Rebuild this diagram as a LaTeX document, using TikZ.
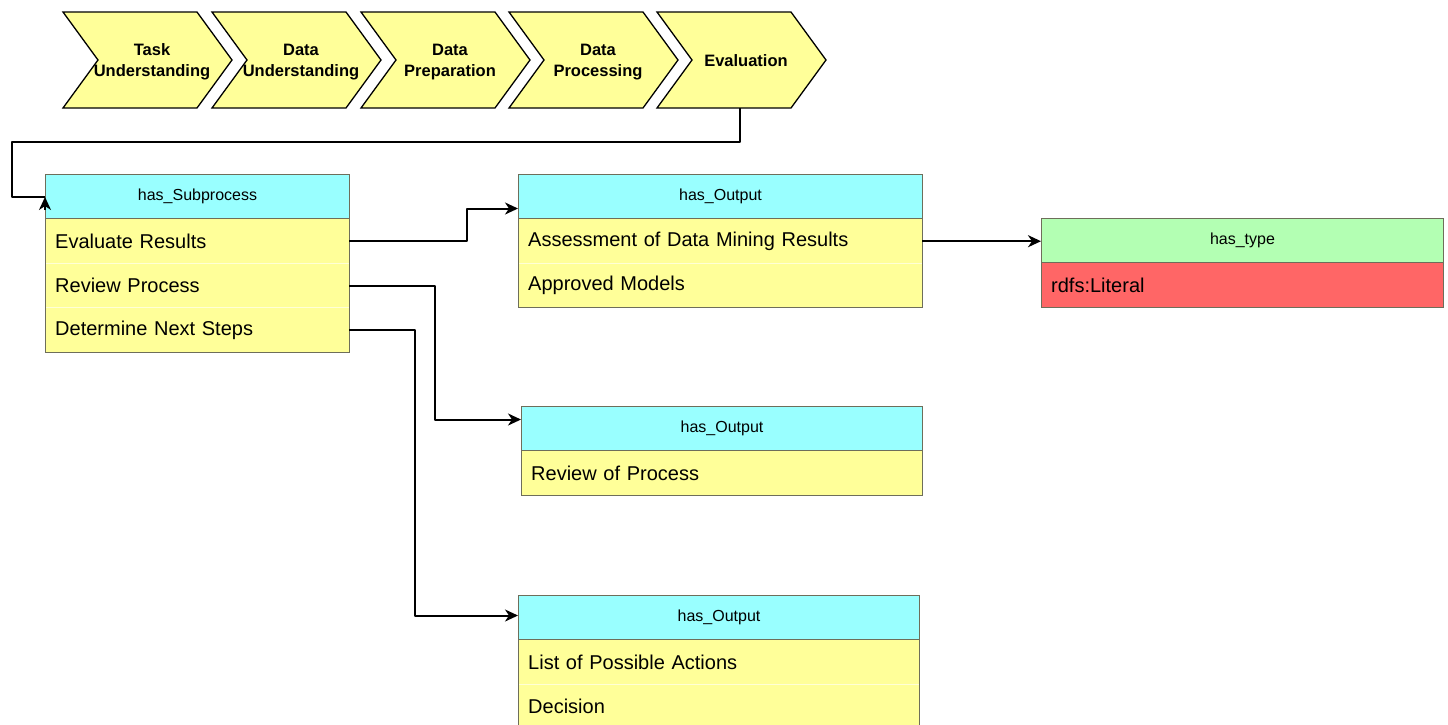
\documentclass[tikz,border=0pt]{standalone}
\usepackage{fontspec}
\setmainfont{Liberation Sans}
\usetikzlibrary{arrows.meta,calc}
\definecolor{chevfill}{HTML}{FFFF99}
\definecolor{hdrcyan}{HTML}{99FFFF}
\definecolor{rowyellow}{HTML}{FFFF99}
\definecolor{hdrgreen}{HTML}{B3FFB3}
\definecolor{rowred}{HTML}{FF6666}
\definecolor{boxline}{HTML}{6E6E5A}
\definecolor{sepline}{HTML}{FFFFD6}
\begin{document}
\begin{tikzpicture}[x=1pt,y=-1pt,
  chev/.style={draw=black, line width=1.3pt, fill=chevfill, line join=miter},
  chevtext/.style={align=center, inner sep=0pt, font=\fontsize{16.5}{21}\selectfont\bfseries},
  hdr/.style={draw=boxline, line width=1pt, fill=hdrcyan, minimum width=#1, minimum height=44pt,
    inner sep=0pt, anchor=north west, font=\fontsize{16}{19}\selectfont},
  rowc/.style={fill=rowyellow, text width=#1-20pt, minimum height=44pt, inner xsep=10pt,
    inner ysep=0pt, align=left, anchor=north west, font=\fontsize{20}{24}\selectfont},
  frame/.style={draw=boxline, line width=1pt},
  sep/.style={draw=sepline, line width=1pt},
  conn/.style={draw=black, line width=2pt, line join=round},
  arr/.style={-{Stealth[length=13pt,width=12pt,inset=4pt]}}
]
\path[use as bounding box] (0,0) rectangle (1448,724);
\clip (0,0) rectangle (1448,724);

% process chevrons
\foreach \x/\n/\t/\dy in {63/c1/{Task\\Understanding}/0, 212/c2/{Data\\Understanding}/0,
    361/c3/{Data\\Preparation}/0, 509/c4/{Data\\Processing}/0, 657/c5/{Evaluation}/-1}{
  \draw[chev] (\x,12) -- ++(134,0) -- ++(35,48) -- ++(-35,48) -- ++(-134,0) -- ++(35,-48) -- cycle;
  \node[chevtext] (\n) at (\x+89,62+\dy) {\t};
}
\coordinate (evbot) at (740,108);

% subprocess box
\node[hdr=304pt] (sub) at (45,174) {has\_Subprocess};
\node[rowc=304pt] (sub1) at (sub.south west) {Evaluate Results};
\node[rowc=304pt] (sub2) at (sub1.south west) {Review Process};
\node[rowc=304pt] (sub3) at (sub2.south west) {Determine Next Steps};
\draw[sep] (sub1.south west) -- (sub1.south east);
\draw[sep] (sub2.south west) -- (sub2.south east);
\draw[frame] (sub.north west) rectangle (sub3.south east);

% first output box
\node[hdr=404pt] (out1) at (518,174) {has\_Output};
\node[rowc=404pt] (out1a) at (out1.south west) {Assessment of Data Mining Results};
\node[rowc=404pt] (out1b) at (out1a.south west) {Approved Models};
\draw[sep] (out1a.south west) -- (out1a.south east);
\draw[frame] (out1.north west) rectangle (out1b.south east);

% type box
\node[hdr=402pt, fill=hdrgreen] (type) at (1041,218) {has\_type};
\node[rowc=402pt, fill=rowred] (typea) at (type.south west) {rdfs:Literal};
\draw[frame] (type.north west) rectangle (typea.south east);

% second output box
\node[hdr=401pt] (out2) at (521,406) {has\_Output};
\node[rowc=401pt] (out2a) at (out2.south west) {Review of Process};
\draw[frame] (out2.north west) rectangle (out2a.south east);

% third output box
\node[hdr=401pt] (out3) at (518,595) {has\_Output};
\node[rowc=401pt] (out3a) at (out3.south west) {List of Possible Actions};
\node[rowc=401pt] (out3b) at (out3a.south west) {Decision};
\draw[sep] (out3a.south west) -- (out3a.south east);
\draw[frame] (out3.north west) rectangle (out3b.south east);

% connectors
\draw[conn] (evbot) |- (12,142) |- ($(sub.north west)+(0,23)$);
\draw[conn,arr] ($(sub.north west)+(0,36)$) -- ($(sub.north west)+(0,23)$);
\draw[conn,arr] (sub1.east) -- ++(118,0) |- ($(out1.west)+(0,12)$);
\draw[conn,arr] (sub2.east) -- ++(86,0) |- ($(out2.west)+(0,-9)$);
\draw[conn,arr] (sub3.east) -- ++(66,0) |- ($(out3.west)+(0,-2)$);
\draw[conn,arr] (out1a.east) -- (out1a.east -| type.west);
\end{tikzpicture}
\end{document}
